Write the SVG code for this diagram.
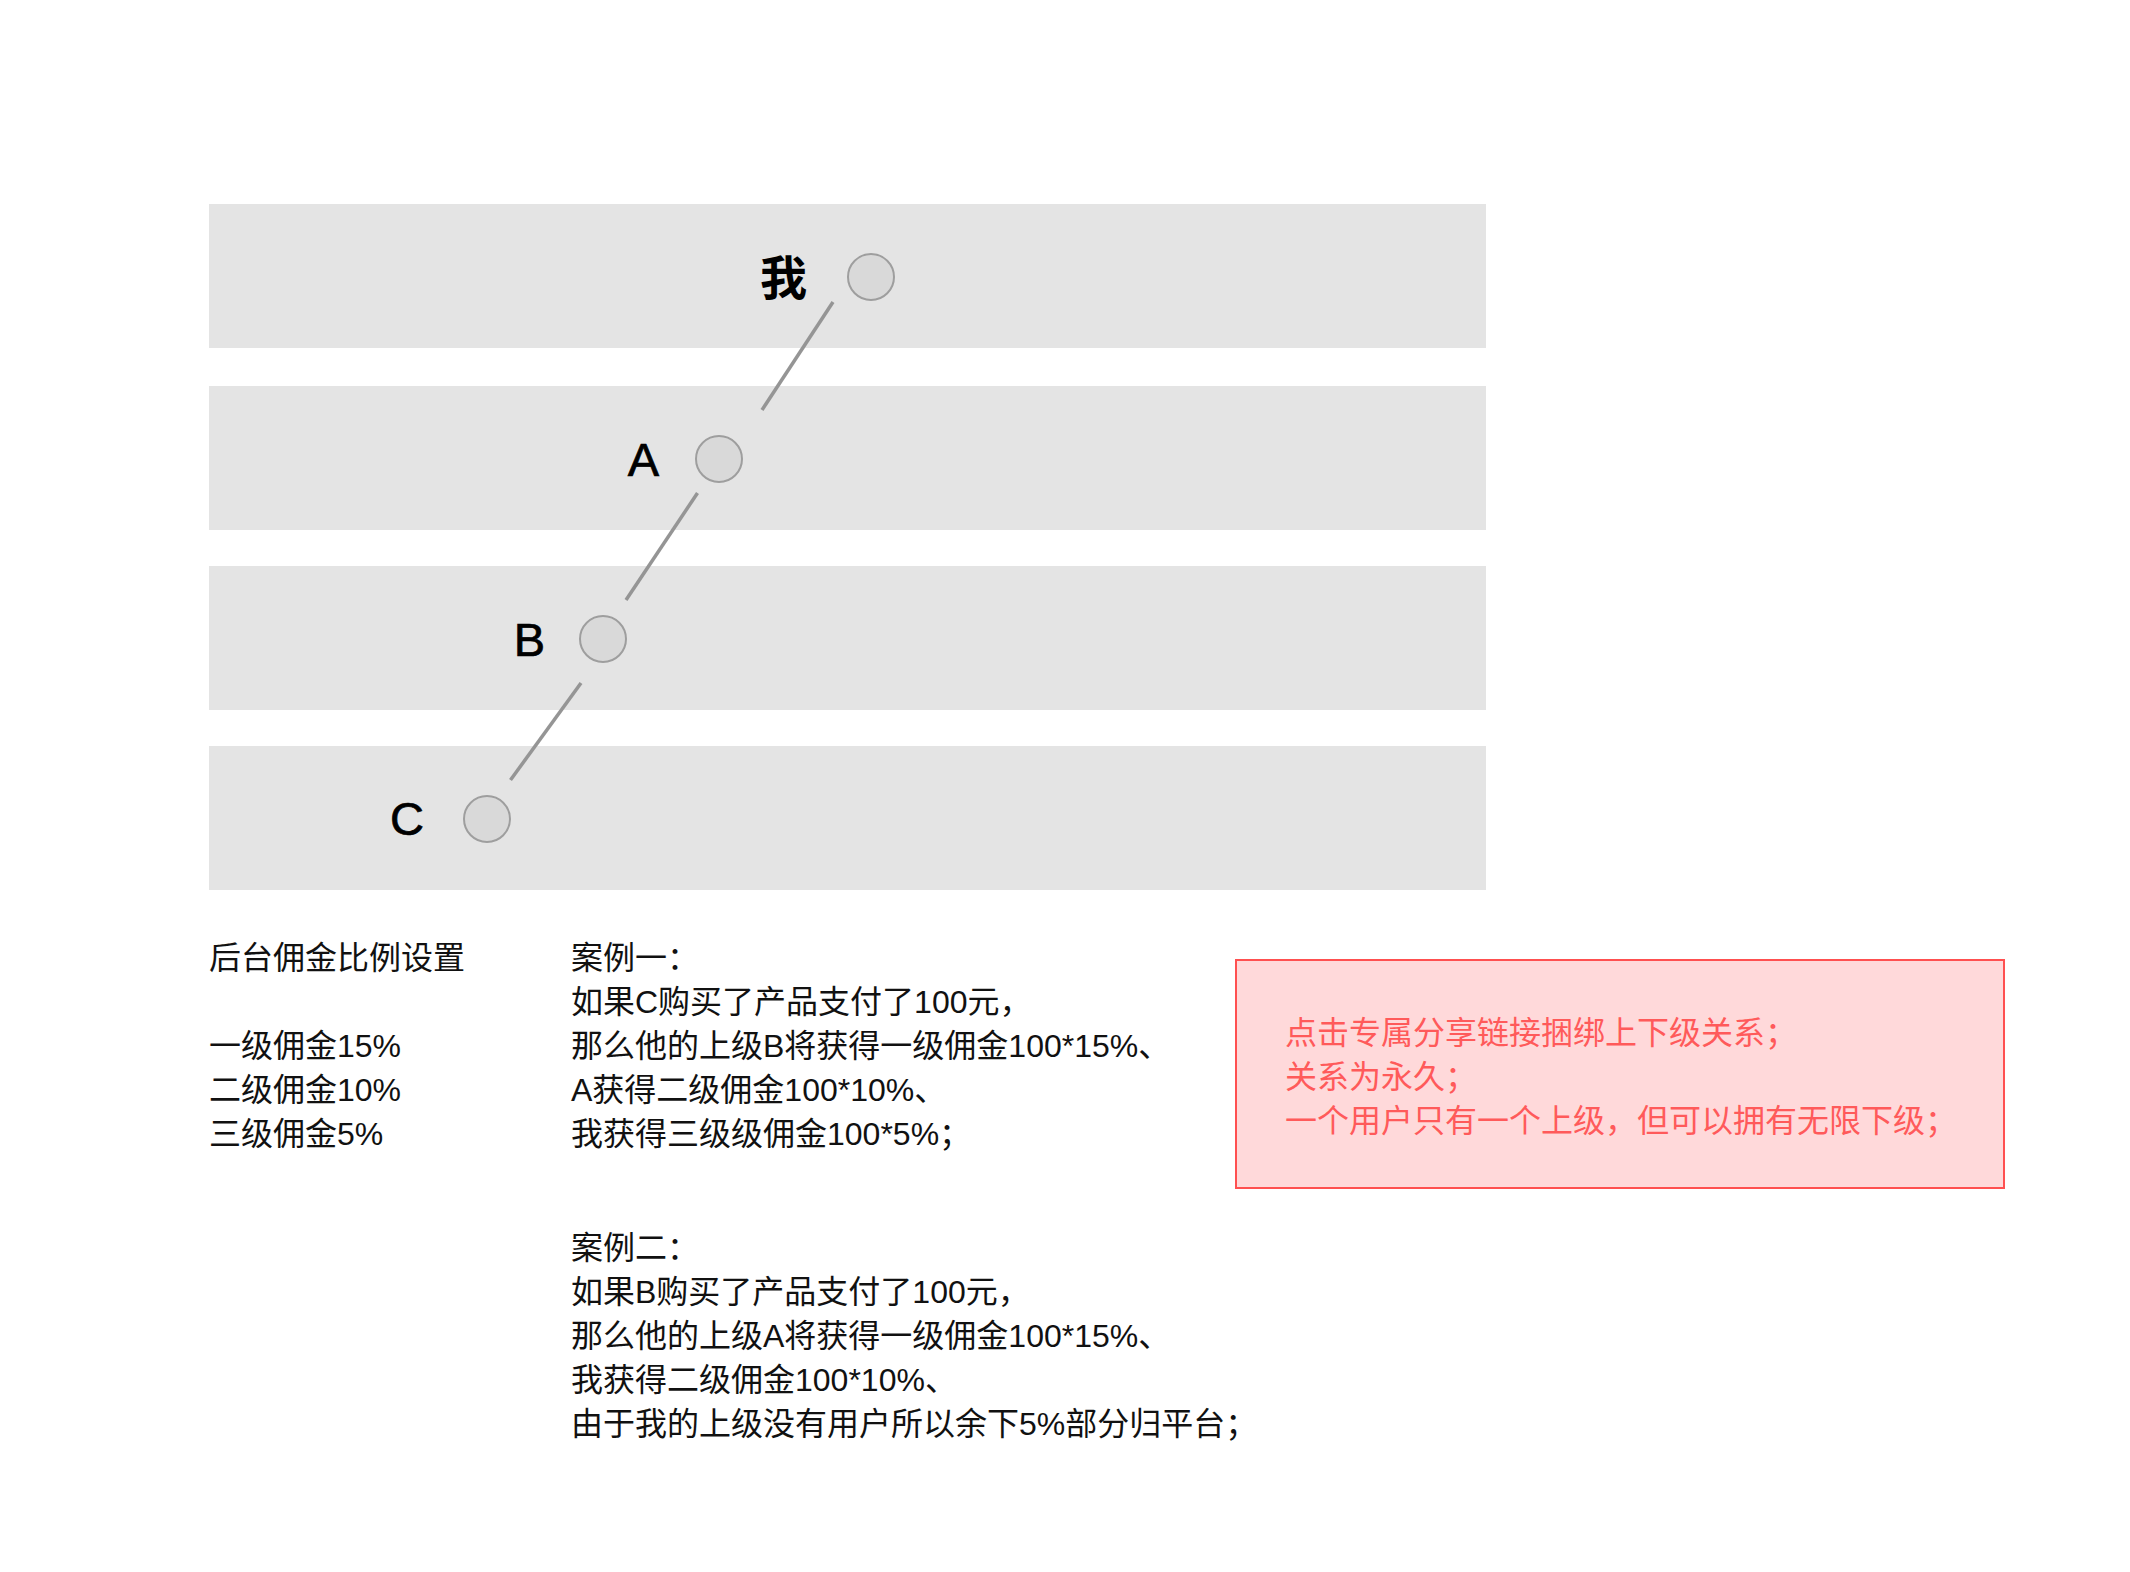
<svg xmlns="http://www.w3.org/2000/svg" width="2130" height="1572" viewBox="0 0 2130 1572">
<style>
.band{fill:#e4e4e4}
.dot{fill:#d9d9d9;stroke:#9e9e9e;stroke-width:2}
.lbl{font-family:"Liberation Sans","Noto Sans CJK SC",sans-serif;font-size:47px;fill:#000;stroke:#000;stroke-width:0.7;text-anchor:end}
.me{font-family:"Noto Sans CJK SC",sans-serif;font-size:47px;font-weight:bold;fill:#000;text-anchor:end}
.conn line{stroke:#959595;stroke-width:3.5}
.txt{font-family:"Liberation Sans","Noto Sans CJK SC",sans-serif;font-size:32px;fill:#111}
.red{font-family:"Liberation Sans","Noto Sans CJK SC",sans-serif;font-size:32px;fill:#ff5a5a}
</style>
<rect width="2130" height="1572" fill="#fff"/>
<g id="bands">
<rect class="band" x="209" y="204" width="1277" height="144"/>
<rect class="band" x="209" y="386" width="1277" height="144"/>
<rect class="band" x="209" y="566" width="1277" height="144"/>
<rect class="band" x="209" y="746" width="1277" height="144"/>
</g>
<g id="connectors" class="conn">
<line x1="833" y1="302" x2="762" y2="410"/>
<line x1="697.5" y1="493" x2="626" y2="600"/>
<line x1="581" y1="683" x2="510.5" y2="780"/>
</g>
<g id="node-me">
<circle class="dot" cx="871" cy="277" r="23"/>
<text class="me" x="807" y="295">我</text>
</g>
<g id="node-a">
<circle class="dot" cx="719" cy="459" r="23"/>
<text class="lbl" x="659" y="476">A</text>
</g>
<g id="node-b">
<circle class="dot" cx="603" cy="639" r="23"/>
<text class="lbl" x="545" y="656">B</text>
</g>
<g id="node-c">
<circle class="dot" cx="487" cy="819" r="23"/>
<text class="lbl" x="424" y="835">C</text>
</g>
<g id="settings">
<text class="txt" x="209" y="969">后台佣金比例设置</text>
<text class="txt" x="209" y="1057">一级佣金15%</text>
<text class="txt" x="209" y="1101">二级佣金10%</text>
<text class="txt" x="209" y="1145">三级佣金5%</text>
</g>
<g id="case1">
<text class="txt" x="571" y="969">案例一：</text>
<text class="txt" x="571" y="1013">如果C购买了产品支付了100元，</text>
<text class="txt" x="571" y="1057">那么他的上级B将获得一级佣金100*15%、</text>
<text class="txt" x="571" y="1101">A获得二级佣金100*10%、</text>
<text class="txt" x="571" y="1145">我获得三级级佣金100*5%；</text>
</g>
<g id="case2">
<text class="txt" x="571" y="1259">案例二：</text>
<text class="txt" x="571" y="1303">如果B购买了产品支付了100元，</text>
<text class="txt" x="571" y="1347">那么他的上级A将获得一级佣金100*15%、</text>
<text class="txt" x="571" y="1391">我获得二级佣金100*10%、</text>
<text class="txt" x="571" y="1435">由于我的上级没有用户所以余下5%部分归平台；</text>
</g>
<g id="note">
<rect x="1236" y="960" width="768" height="228" fill="#ffd9da" stroke="#ff5050" stroke-width="2"/>
<text class="red" x="1285" y="1044">点击专属分享链接捆绑上下级关系；</text>
<text class="red" x="1285" y="1088">关系为永久；</text>
<text class="red" x="1285" y="1132">一个用户只有一个上级，但可以拥有无限下级；</text>
</g>
</svg>
